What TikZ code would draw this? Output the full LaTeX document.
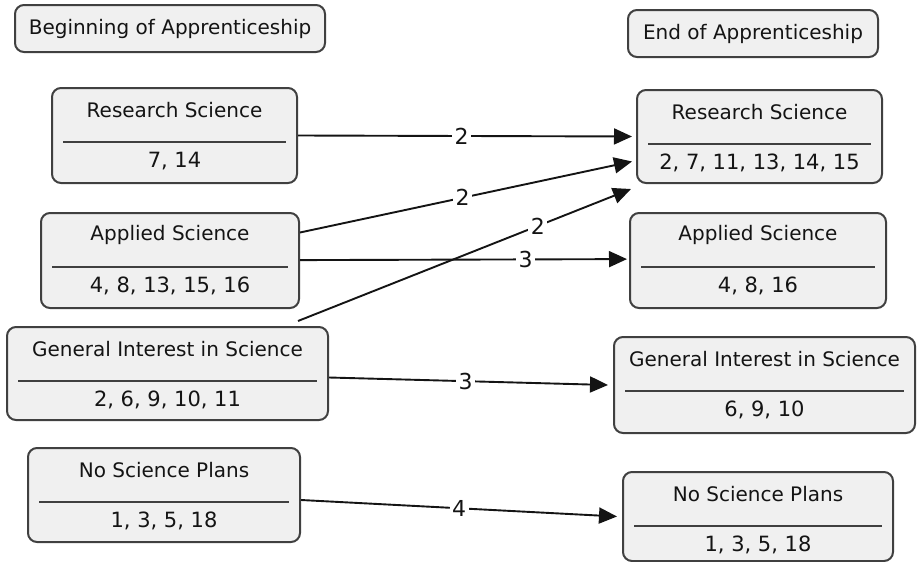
\documentclass[tikz,border=0pt]{standalone}
\usepackage{fontspec}
\setmainfont{DejaVu Sans}
\usetikzlibrary{arrows.meta}
\definecolor{boxfill}{HTML}{F0F0F0}
\definecolor{boxline}{HTML}{404040}
\definecolor{txt}{HTML}{141414}
\tikzset{
  box/.style={draw=boxline, line width=2pt, fill=boxfill, rounded corners=9pt, inner sep=0pt},
  ttl/.style={font=\fontsize{20}{23}\selectfont, text=txt, inner sep=0pt, anchor=center},
  nums/.style={font=\fontsize{21}{24}\selectfont, text=txt, inner sep=0pt, anchor=center},
  divider/.style={draw=boxline, line width=1.4pt},
  flow/.style={draw=txt, line width=1.9pt, -{Triangle[length=18pt,width=16pt]}},
  lab/.style={fill=white, inner sep=2.5pt, font=\fontsize{22}{25}\selectfont, text=txt}
}
\newcommand{\stagebox}[7]{%
  \node[box, minimum width={#4pt-#2pt}, minimum height={#5pt-#3pt}] (#1) at ({(#2+#4)/2},{(#3+#5)/2}) {};
  \node[ttl] (#1t) at ([yshift=-23pt]#1.north) {#6};
  \draw[divider] ([xshift=12pt,yshift=-55pt]#1.north west) -- ([xshift=-12pt,yshift=-55pt]#1.north east);
  \node[nums] (#1n) at ([yshift=-74pt]#1.north) {#7};
}
\begin{document}
\begin{tikzpicture}[x=1pt,y=-1pt]
\useasboundingbox (0,0) rectangle (922,562);
% headers
\node[box, minimum width=310pt, minimum height=47pt] (hl) at (170,28.5) {};
\node[ttl] (hlt) at (hl) {Beginning of Apprenticeship};
\node[box, minimum width=250pt, minimum height=47pt] (hr) at (753,33.5) {};
\node[ttl] (hrt) at (hr) {End of Apprenticeship};
% left boxes
\stagebox{L1}{52}{88}{297}{183}{Research Science}{7, 14}
\stagebox{L2}{41}{213}{299}{308}{Applied Science}{4, 8, 13, 15, 16}
\stagebox{L3}{7}{327}{328}{420}{General Interest in Science}{2, 6, 9, 10, 11}
\stagebox{L4}{28}{448}{300}{542}{No Science Plans}{1, 3, 5, 18}
% right boxes
\stagebox{R1}{637}{90}{882}{183}{Research Science}{2, 7, 11, 13, 14, 15}
\stagebox{R2}{630}{213}{886}{308}{Applied Science}{4, 8, 16}
\stagebox{R3}{614}{337}{915}{433}{General Interest in Science}{6, 9, 10}
\stagebox{R4}{623}{472}{893}{561}{No Science Plans}{1, 3, 5, 18}
% connectors
\draw[flow] (L1.east) -- node[lab, pos=.49] {2} ([xshift=-4pt]R1.west);
\draw[flow] ([yshift=28pt]L2.east) -- node[lab, pos=.49] {2} ([xshift=-4pt,yshift=-25pt]R1.west);
\draw[flow] ([xshift=-31pt,yshift=5pt]L3.north east) -- node[lab, pos=.72] {2} ([xshift=-5pt,yshift=-5pt]R1.south west);
\draw[flow] ([yshift=0.4pt]L2.east) -- node[lab, pos=.69] {3} ([xshift=-2pt,yshift=1.4pt]R2.west);
\draw[flow] ([yshift=-4pt]L3.east) -- node[lab, pos=.49] {3} ([xshift=-5pt]R3.west);
\draw[flow] ([yshift=-5pt]L4.east) -- node[lab, pos=.5] {4} ([xshift=-5pt]R4.west);
\end{tikzpicture}
\end{document}
